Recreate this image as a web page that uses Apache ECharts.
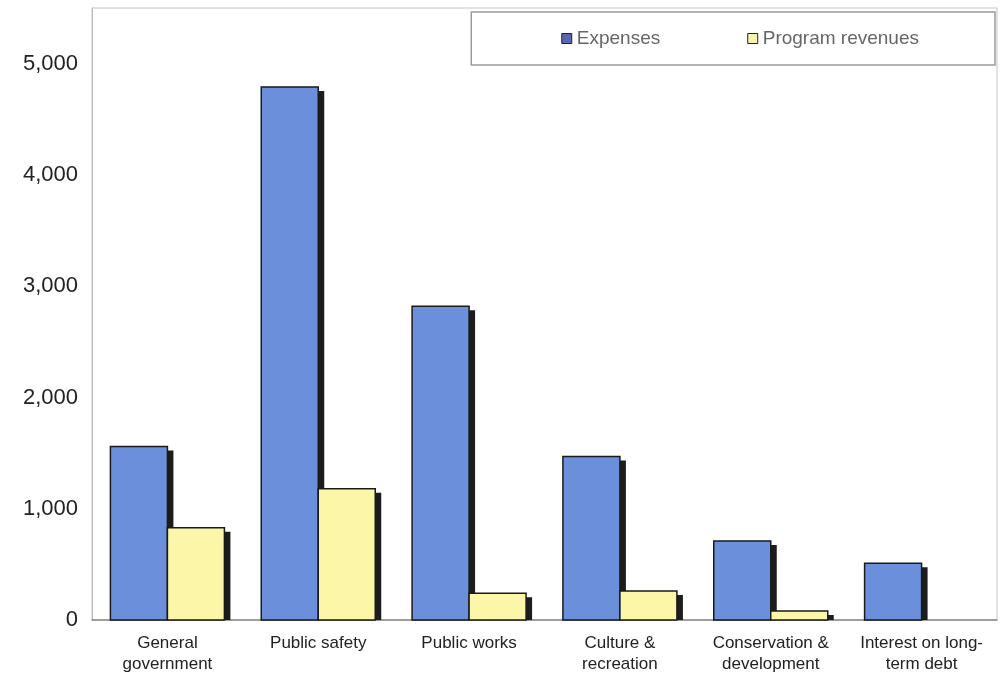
<!DOCTYPE html>
<html>
<head>
<meta charset="utf-8">
<script src="https://cdn.jsdelivr.net/npm/echarts@6/dist/echarts.min.js"></script>
<style>
  html, body { margin: 0; padding: 0; background: #fff; }
  #chart { width: 1005px; height: 684px; }
</style>
</head>
<body>
<div id="chart"></div>
<script>
/* ---------- data ---------- */
const categories = [
  "General\ngovernment",
  "Public safety",
  "Public works",
  "Culture &\nrecreation",
  "Conservation &\ndevelopment",
  "Interest on long-\nterm debt",
];
const expenses = [1560, 4790, 2820, 1470, 710, 510];
const programRevenues = [830, 1180, 240, 260, 80, 0];

const BLUE = "#6b8fdb";
const YELLOW = "#fbf6a8";
const BAR_W = 57;

/* ---------- chart ---------- */
const chart = echarts.init(document.getElementById("chart"), null, { renderer: "canvas" });

// bar with a dark drop shadow on the right, like the old 3D office charts
function barRenderer(side, color) {
  return (params, api) => {
    const val = api.value(1);
    if (!val) return null;
    const top = api.coord([api.value(0), val]);
    const base = api.coord([api.value(0), 0]);
    const x = side === 0 ? top[0] - BAR_W : top[0];
    const h = base[1] - top[1];
    return {
      type: "group",
      children: [
        {
          type: "rect",
          shape: { x: x + 6, y: top[1] + 4, width: BAR_W, height: Math.max(h - 4, 1) },
          style: { fill: "#1c1c1c" },
        },
        {
          type: "rect",
          shape: { x, y: top[1], width: BAR_W, height: h },
          style: { fill: color, stroke: "#1a1a1a", lineWidth: 1.5 },
        },
      ],
    };
  };
}

chart.setOption({
  animation: false,
  textStyle: { fontFamily: "Liberation Sans, Arial, sans-serif" },
  grid: {
    left: 92, right: 8, top: 8, bottom: 64,
    show: true, borderColor: "#c4c4c4", borderWidth: 1,
  },
  legend: {
    right: 10, top: 12,
    padding: [17, 76, 17, 90],
    itemGap: 87,
    itemWidth: 10, itemHeight: 10,
    borderColor: "#9a9a9a", borderWidth: 1.5,
    backgroundColor: "#fff",
    textStyle: { fontSize: 19, color: "#666" },
    data: [
      { name: "Expenses", icon: "rect", itemStyle: { color: "#5c64b4", borderColor: "#222", borderWidth: 1 } },
      { name: "Program revenues", icon: "rect", itemStyle: { color: "#f6f2b0", borderColor: "#222", borderWidth: 1 } },
    ],
  },
  xAxis: {
    type: "category",
    data: categories,
    axisLine: { lineStyle: { color: "#888", width: 1.5 } },
    axisTick: { show: false },
    axisLabel: { interval: 0, fontSize: 17, color: "#222", lineHeight: 21, margin: 13 },
  },
  yAxis: {
    type: "value",
    min: 0, max: 5500, interval: 1000,
    axisLine: { show: true, lineStyle: { color: "#bbb" } },
    axisTick: { show: false },
    splitLine: { show: false },
    axisLabel: {
      fontSize: 22, color: "#222", margin: 14, showMaxLabel: false,
      formatter: (v) => v.toLocaleString("en-US"),
    },
  },
  series: [
    {
      name: "Expenses",
      type: "custom",
      data: expenses.map((v, i) => [i, v]),
      itemStyle: { color: BLUE },
      renderItem: barRenderer(0, BLUE),
    },
    {
      name: "Program revenues",
      type: "custom",
      data: programRevenues.map((v, i) => [i, v]),
      itemStyle: { color: YELLOW },
      renderItem: barRenderer(1, YELLOW),
    },
  ],
});
</script>
</body>
</html>
